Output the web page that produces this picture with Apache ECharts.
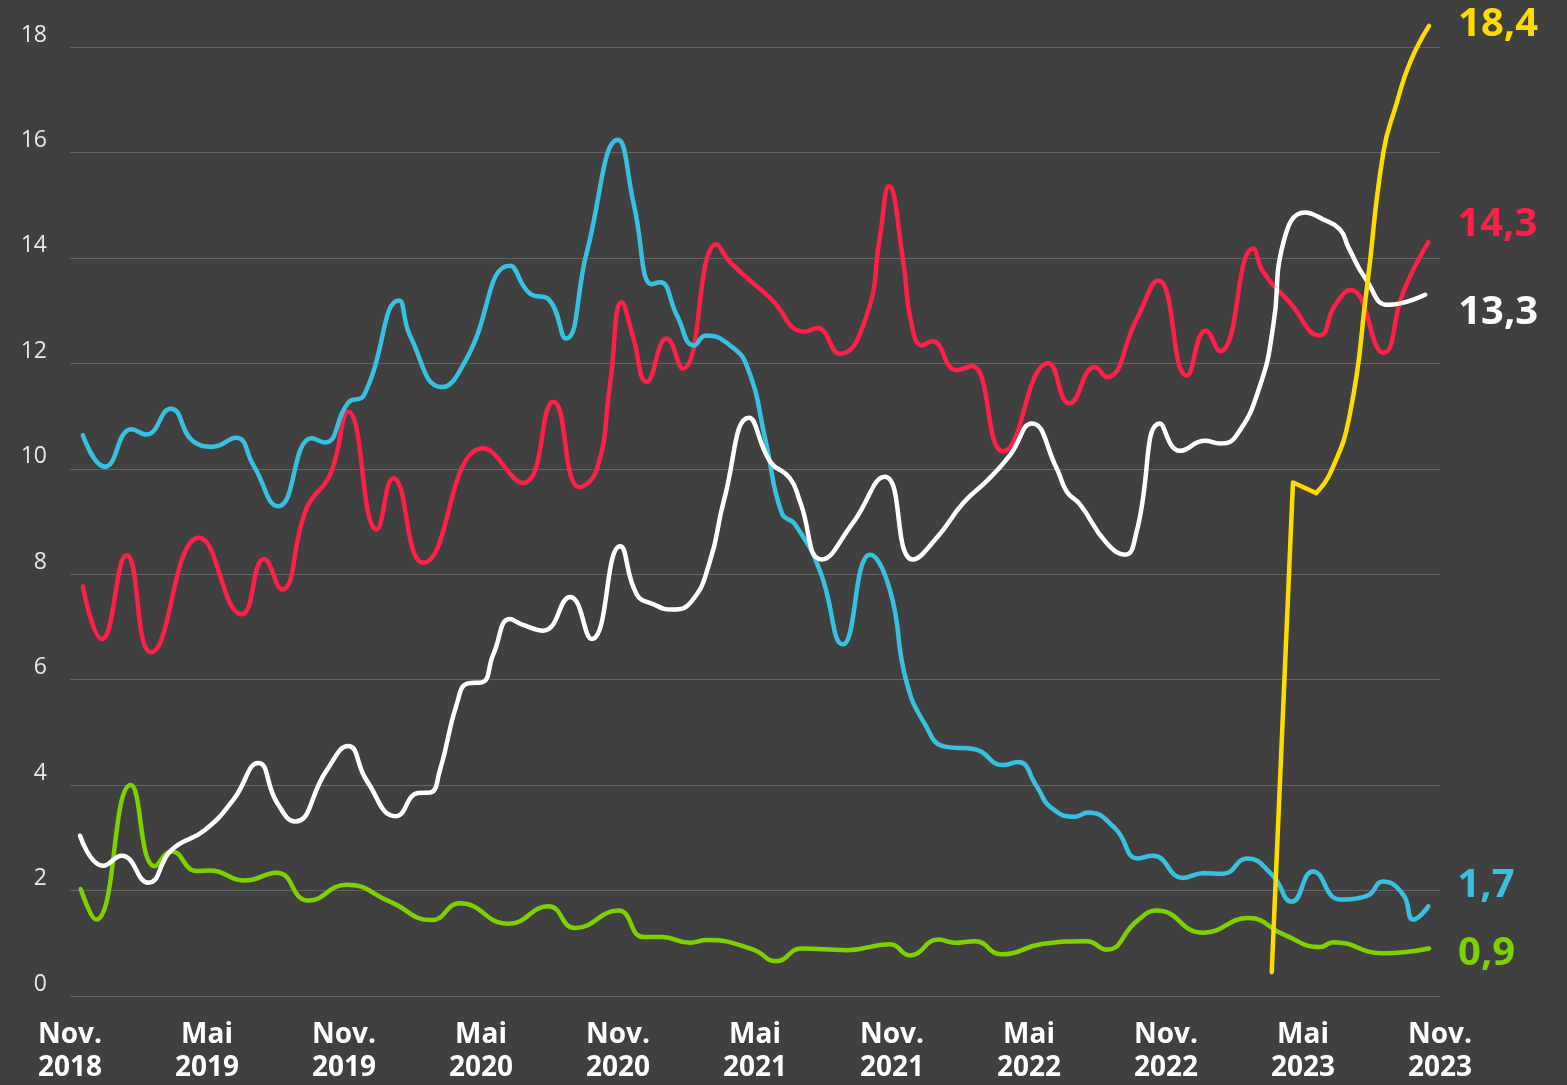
<!DOCTYPE html>
<html>
<head>
<meta charset="utf-8">
<script src="https://cdn.jsdelivr.net/npm/echarts@6/dist/echarts.min.js"></script>
<style>
  html, body { margin: 0; padding: 0; background: #404040; }
  #chart { width: 1567px; height: 1085px; }
</style>
</head>
<body>
<div id="chart"></div>
<script>
// x = months since 1 Nov 2018, y = share in percent
const tickLabels = ['Nov.\n2018', 'Mai\n2019', 'Nov.\n2019', 'Mai\n2020', 'Nov.\n2020', 'Mai\n2021',
                    'Nov.\n2021', 'Mai\n2022', 'Nov.\n2022', 'Mai\n2023', 'Nov.\n2023'];
const yTicks = [0, 2, 4, 6, 8, 10, 12, 14, 16, 18];

const redSeries = [
  [0.56, 7.77], [1.39, 6.77], [2.48, 8.36], [3.55, 6.52], [5.66, 8.69], [7.52, 7.24],
  [8.50, 8.29], [9.27, 7.71], [10.37, 9.26], [11.39, 9.89], [12.19, 11.08], [13.43, 8.85],
  [14.16, 9.82], [15.47, 8.22], [18.10, 10.39], [19.85, 9.73], [21.17, 11.27], [22.31, 9.65],
  [23.08, 10.0], [23.65, 11.6], [24.16, 13.16], [24.66, 12.5], [25.26, 11.65], [26.13, 12.47],
  [26.83, 11.90], [28.32, 14.26], [28.91, 13.92], [30.66, 13.24], [32.19, 12.6], [32.72, 12.67],
  [33.72, 12.18], [34.89, 12.91], [35.47, 14.4], [35.87, 15.36], [36.48, 13.98], [36.83, 12.8],
  [37.32, 12.34], [37.75, 12.42], [38.83, 11.87], [39.49, 11.95], [40.87, 10.33], [42.85, 12.0],
  [43.77, 11.24], [44.89, 11.93], [45.40, 11.74], [46.72, 12.84], [47.66, 13.57], [48.91, 11.77],
  [49.74, 12.62], [50.37, 12.23], [51.82, 14.18], [52.26, 13.73], [53.43, 13.15], [54.72, 12.53],
  [55.40, 13.10], [56.09, 13.39], [57.52, 12.20], [58.39, 13.35], [59.49, 14.3]
];

const cyanSeries = [
  [0.56, 10.64], [1.53, 10.04], [2.70, 10.75], [3.33, 10.65], [4.41, 11.14], [5.40, 10.52],
  [6.26, 10.42], [7.27, 10.59], [8.03, 10.07], [9.12, 9.29], [10.59, 10.58], [11.17, 10.50],
  [12.18, 11.25], [12.88, 11.40], [14.41, 13.19], [14.89, 12.53], [16.28, 11.55], [17.37, 12.09],
  [19.27, 13.85], [20.15, 13.32], [20.95, 13.22], [21.72, 12.47], [22.63, 14.10], [24.00, 16.24],
  [24.70, 15.00], [25.49, 13.50], [25.84, 13.54], [26.58, 12.91], [27.33, 12.34], [27.85, 12.53],
  [28.91, 12.34], [29.69, 11.90], [30.48, 10.50], [31.18, 9.15], [31.75, 8.95], [32.85, 8.06],
  [33.85, 6.67], [35.04, 8.37], [35.91, 7.70], [36.61, 6.00], [37.45, 5.15], [38.32, 4.73],
  [39.63, 4.68], [40.86, 4.38], [41.52, 4.44], [42.35, 3.97], [42.92, 3.59], [44.01, 3.40],
  [44.58, 3.48], [45.77, 3.18], [46.77, 2.61], [47.43, 2.66], [48.75, 2.24], [49.62, 2.33],
  [50.50, 2.32], [51.55, 2.61], [52.64, 2.30], [53.52, 1.79], [54.44, 2.36], [55.62, 1.83],
  [56.80, 1.90], [57.50, 2.17], [58.39, 1.92], [58.83, 1.45], [59.49, 1.7]
];

const whiteSeries = [
  [0.44, 3.04], [1.46, 2.47], [2.26, 2.66], [3.43, 2.15], [4.45, 2.77], [5.91, 3.15],
  [7.15, 3.72], [8.25, 4.42], [9.05, 3.68], [9.85, 3.31], [11.24, 4.28], [12.18, 4.74],
  [12.99, 4.09], [14.28, 3.41], [15.25, 3.85], [15.77, 3.86], [16.20, 4.28], [16.94, 5.54],
  [17.43, 5.93], [18.04, 5.95], [18.54, 6.48], [19.27, 7.15], [19.78, 7.05], [20.73, 6.93],
  [21.90, 7.57], [22.85, 6.77], [24.09, 8.53], [24.82, 7.62], [25.55, 7.43], [26.35, 7.33],
  [27.23, 7.49], [28.03, 8.25], [28.64, 9.40], [29.74, 10.97], [30.66, 10.14], [31.53, 9.82],
  [31.97, 9.38], [32.92, 8.28], [34.25, 8.95], [35.69, 9.85], [36.91, 8.28], [37.96, 8.69],
  [39.12, 9.35], [40.20, 9.79], [41.17, 10.26], [42.12, 10.86], [43.21, 10.01], [43.65, 9.57],
  [44.24, 9.32], [45.40, 8.59], [46.21, 8.37], [46.72, 8.82], [47.74, 10.86], [48.61, 10.34],
  [49.71, 10.53], [50.37, 10.48], [51.10, 10.64], [52.12, 11.58], [52.70, 12.72], [53.14, 14.29],
  [54.09, 14.86], [54.89, 14.73], [55.62, 14.54], [55.99, 14.20], [56.79, 13.57], [57.74, 13.11],
  [59.35, 13.3]
];

const greenSeries = [
  [0.47, 2.03], [1.14, 1.45], [2.66, 4.00], [3.72, 2.46], [4.45, 2.74], [5.55, 2.37],
  [6.13, 2.38], [7.66, 2.19], [9.05, 2.34], [10.44, 1.81], [12.12, 2.11], [14.01, 1.79],
  [15.84, 1.44], [17.08, 1.76], [19.20, 1.37], [20.95, 1.70], [22.12, 1.29], [24.01, 1.62],
  [25.11, 1.12], [25.91, 1.12], [27.15, 1.01], [27.89, 1.06], [29.93, 0.88], [30.92, 0.66],
  [32.05, 0.90], [34.02, 0.87], [35.91, 0.98], [36.79, 0.77], [38.03, 1.07], [38.76, 1.01],
  [39.63, 1.04], [40.80, 0.79], [42.63, 0.99], [44.53, 1.04], [45.40, 0.88], [46.72, 1.42],
  [47.61, 1.62], [49.64, 1.20], [51.61, 1.48], [53.14, 1.17], [54.75, 0.93], [55.33, 1.02],
  [57.52, 0.81], [59.52, 0.9]
];

const yellowSeries = [
  [52.63, 0.45], [53.56, 9.74], [54.57, 9.54], [55.23, 9.95], [56.06, 11.05], [56.79, 13.40],
  [57.52, 16.00], [58.10, 16.93], [58.69, 17.71], [59.52, 18.4]
];

const COLORS = {
  red: '#ff1f48',
  cyan: '#38c1df',
  white: '#ffffff',
  green: '#7dd100',
  yellow: '#ffdc00'
};

function fmtValue(p) {
  return p.value[1].toFixed(1).replace('.', ',');
}

function endLabel(color, offsetX, offsetY) {
  return {
    show: true,
    formatter: fmtValue,
    color: color,
    fontFamily: 'Open Sans',
    fontWeight: 'bold',
    fontSize: 40,
    distance: 0,
    align: 'left',
    offset: [offsetX, offsetY]
  };
}

function lineSeries(name, data, color, width, extra) {
  return Object.assign({
    name: name,
    type: 'line',
    data: data,
    smooth: 0.5,
    clip: false,
    showSymbol: false,
    symbol: 'none',
    silent: true,
    lineStyle: { color: color, width: width, cap: 'round', join: 'round' }
  }, extra || {});
}

const chart = echarts.init(document.getElementById('chart'), null, { renderer: 'canvas' });

chart.setOption({
  backgroundColor: '#404040',
  animation: false,
  grid: { left: 70, right: 127, top: 47, bottom: 85, containLabel: false },
  xAxis: {
    type: 'value',
    min: 0,
    max: 60,
    interval: 6,
    axisLine: { show: false },
    axisTick: { show: false },
    splitLine: { show: false },
    axisLabel: {
      show: true,
      showMinLabel: true,
      showMaxLabel: true,
      margin: 23,
      color: '#ffffff',
      fontFamily: 'Open Sans',
      fontWeight: 'bold',
      fontSize: 28,
      lineHeight: 33,
      align: 'center',
      formatter: function (v) { return tickLabels[Math.round(v / 6)] || ''; }
    }
  },
  yAxis: {
    type: 'value',
    min: yTicks[0],
    max: yTicks[yTicks.length - 1],
    interval: 2,
    axisLine: { show: false },
    axisTick: { show: false },
    splitLine: { show: true, lineStyle: { color: '#646464', width: 1.2 } },
    axisLabel: {
      margin: 23,
      color: '#e8e8e8',
      fontFamily: 'Open Sans',
      fontSize: 23,
      lineHeight: 24,
      verticalAlign: 'bottom',
      formatter: function (v) { return String(v); }
    }
  },
  series: [
    lineSeries('Rot', redSeries, COLORS.red, 4.5, { endLabel: endLabel(COLORS.red, 29, -17) }),
    lineSeries('Blau', cyanSeries, COLORS.cyan, 4.5, { endLabel: endLabel(COLORS.cyan, 29, -21) }),
    lineSeries('Grün', greenSeries, COLORS.green, 4.5, { endLabel: endLabel(COLORS.green, 29, 5) }),
    lineSeries('Weiß', whiteSeries, COLORS.white, 4.5, { endLabel: endLabel(COLORS.white, 33, 18) }),
    // the first two intervals of the yellow series are straight segments
    lineSeries('Gelb (Start)', yellowSeries.slice(0, 3), COLORS.yellow, 4.5, { smooth: false }),
    lineSeries('Gelb', yellowSeries.slice(2), COLORS.yellow, 4.5, { endLabel: endLabel(COLORS.yellow, 29, -1) })
  ]
});
</script>
</body>
</html>
